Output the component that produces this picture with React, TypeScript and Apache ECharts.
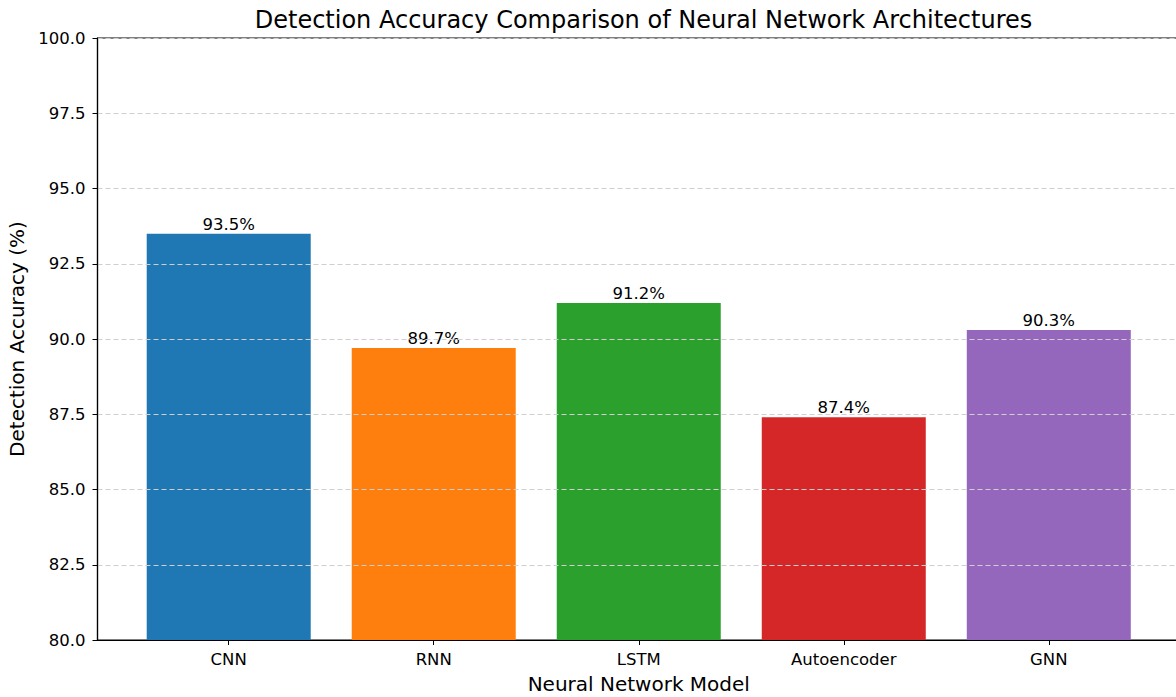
import React, { useEffect, useRef } from "react";
import * as echarts from "echarts";

const categories = ["CNN", "RNN", "LSTM", "Autoencoder", "GNN"];
const accuracy = [93.5, 89.7, 91.2, 87.4, 90.3];
const barColors = ["#1f77b4", "#ff7f0e", "#2ca02c", "#d62728", "#9467bd"];
const yTicks = { min: 80, max: 100, step: 2.5 };

const FONT = "DejaVu Sans";
const TICK_SIZE = 16.5;

export default function App() {
  const ref = useRef<HTMLDivElement>(null);

  useEffect(() => {
    document.body.style.margin = "0";
    document.body.style.overflow = "hidden";
    if (!ref.current) return;
    const chart = echarts.init(ref.current, null, { renderer: "svg" });
    const positions = categories.map((_, i) => i);

    chart.setOption({
      animation: false,
      backgroundColor: "#ffffff",
      textStyle: { fontFamily: FONT },
      title: {
        text: "Detection Accuracy Comparison of Neural Network Architectures",
        left: 638.5,
        top: 3,
        textAlign: "center",
        textStyle: { fontFamily: FONT, fontSize: 24, fontWeight: "normal", color: "#000" },
      },
      grid: {
        left: 97.5,
        top: 38,
        width: 1082.5,
        height: 602,
        outerBoundsMode: "none",
        containLabel: false,
        show: true,
        borderColor: "#000",
        borderWidth: 1.2,
        backgroundColor: "transparent",
      },
      xAxis: {
        type: "value",
        min: -0.64,
        max: 4.64,
        z: 5,
        name: "Neural Network Model",
        nameLocation: "middle",
        nameGap: 34,
        nameTextStyle: { fontFamily: FONT, fontSize: 20, color: "#000" },
        axisLine: { show: true, onZero: false, lineStyle: { color: "#000", width: 1.2 } },
        axisTick: { show: true, customValues: positions, length: 5, lineStyle: { color: "#000" } },
        axisLabel: {
          customValues: positions,
          formatter: (v: number) => categories[Math.round(v)] ?? "",
          fontFamily: FONT,
          fontSize: TICK_SIZE,
          color: "#000",
          margin: 11,
        },
        splitLine: { show: false },
      },
      yAxis: {
        type: "value",
        min: yTicks.min,
        max: yTicks.max,
        interval: yTicks.step,
        z: 4,
        name: "Detection Accuracy (%)",
        nameLocation: "middle",
        nameGap: 70,
        nameRotate: 90,
        nameTextStyle: { fontFamily: FONT, fontSize: 20, color: "#000" },
        axisLine: { show: true, onZero: false, lineStyle: { color: "#000", width: 1.2 } },
        axisTick: { show: true, length: 5, lineStyle: { color: "#000" } },
        axisLabel: {
          formatter: (v: number) => v.toFixed(1),
          fontFamily: FONT,
          fontSize: TICK_SIZE,
          color: "#000",
          margin: 12,
        },
        splitLine: {
          show: true,
          lineStyle: { color: "#cfcfcf", width: 1, type: [5, 3] },
        },
      },
      series: [
        {
          type: "bar",
          barWidth: 164,
          data: accuracy.map((v, i) => ({
            value: [positions[i], v],
            itemStyle: { color: barColors[i] },
          })),
          label: {
            show: true,
            position: "top",
            distance: 1,
            formatter: (p: any) => `${p.value[1].toFixed(1)}%`,
            fontFamily: FONT,
            fontSize: TICK_SIZE,
            color: "#000",
          },
        },
      ],
    });

    return () => chart.dispose();
  }, []);

  return <div ref={ref} style={{ width: 1176, height: 697, display: "block" }} />;
}
